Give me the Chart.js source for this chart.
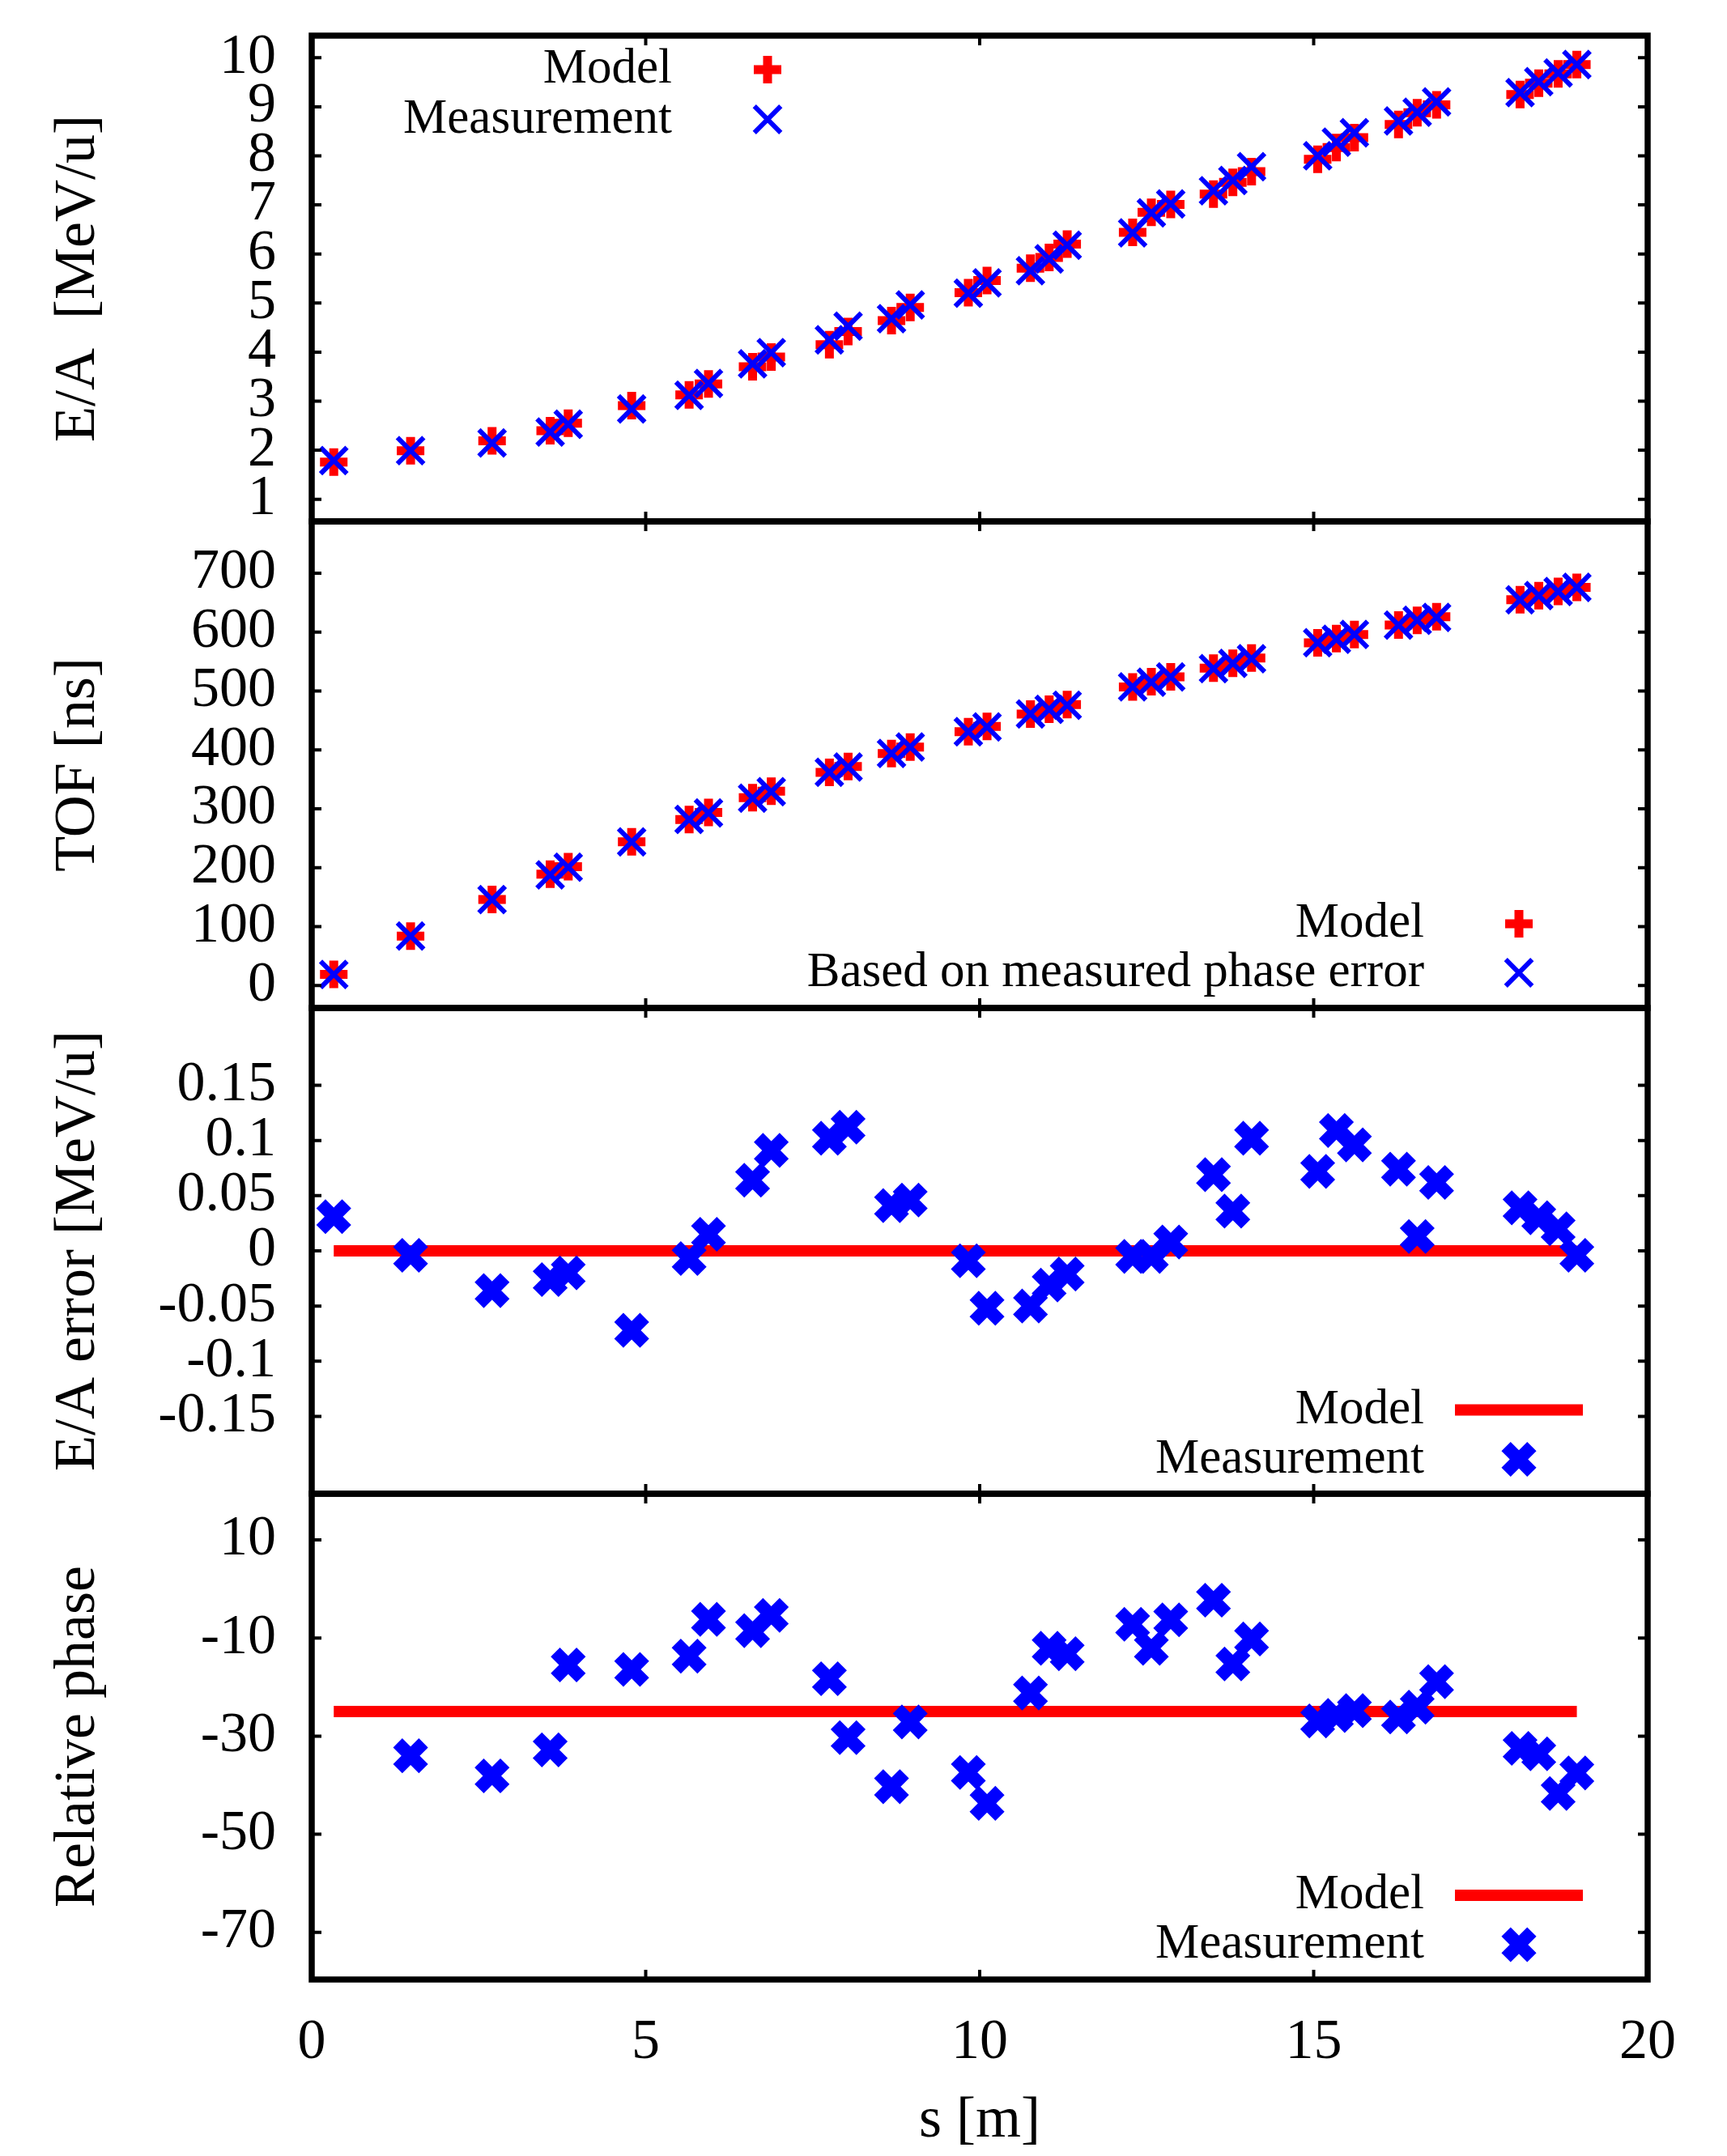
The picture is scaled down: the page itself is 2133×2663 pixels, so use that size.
<!DOCTYPE html>
<html>
<head>
<meta charset="utf-8">
<title>Energy, TOF and phase along the linac</title>
<script src="https://cdn.jsdelivr.net/npm/chart.js@4.4.1/dist/chart.umd.min.js"></script>
<style>
  html, body { margin: 0; padding: 0; background: #fff; overflow: hidden; }
  #wrap { position: relative; width: 2133px; height: 2663px; }
  canvas { position: absolute; left: 0; }
</style>
</head>
<body>
<div id="wrap">
  <canvas id="panelEA"></canvas>
  <canvas id="panelTOF"></canvas>
  <canvas id="panelErr"></canvas>
  <canvas id="panelPhase"></canvas>
</div>
<script>
// Cavity positions along the beam line, s [m]
const sPos = [0.33, 1.48, 2.70, 3.57, 3.84, 4.79, 5.65, 5.94, 6.60, 6.88,
              7.75, 8.03, 8.68, 8.96, 9.83, 10.11, 10.76, 11.04, 11.31, 12.29,
              12.57, 12.86, 13.50, 13.79, 14.07, 15.06, 15.34, 15.61, 16.27, 16.55,
              16.84, 18.09, 18.37, 18.66, 18.94];

// E/A [MeV/u]
const eaModel = [1.76, 1.99, 2.19, 2.40, 2.55, 2.91, 3.13, 3.35, 3.70, 3.90,
                 4.15, 4.42, 4.64, 4.91, 5.21, 5.46, 5.71, 5.93, 6.20, 6.44,
                 6.85, 7.01, 7.22, 7.46, 7.68, 7.93, 8.17, 8.37, 8.64, 8.88,
                 9.04, 9.25, 9.48, 9.67, 9.86];
const eaMeas = [1.79, 1.99, 2.15, 2.37, 2.53, 2.84, 3.12, 3.36, 3.76, 3.99,
                4.25, 4.53, 4.68, 4.96, 5.20, 5.41, 5.66, 5.90, 6.18, 6.43,
                6.84, 7.02, 7.29, 7.50, 7.78, 8.00, 8.28, 8.47, 8.71, 8.89,
                9.10, 9.29, 9.51, 9.69, 9.86];

// TOF [ns]
const tofModel = [19, 84, 146, 189, 202, 244, 282, 294, 319, 330,
                  362, 372, 394, 405, 431, 440, 461, 469, 477, 507,
                  516, 524, 539, 547, 556, 582, 589, 596, 612, 620,
                  626, 655, 662, 669, 676];
const tofMeas = [19, 84, 146, 188, 201, 244, 282, 293, 318, 329,
                 362, 371, 394, 405, 431, 439, 461, 469, 476, 507,
                 515, 524, 538, 547, 555, 582, 588, 596, 612, 620,
                 625, 655, 662, 669, 676];

// E/A error [MeV/u]
const eaErrMeas = [0.031, -0.004, -0.036, -0.026, -0.020, -0.072, -0.007, 0.015, 0.064, 0.091,
                   0.102, 0.112, 0.041, 0.046, -0.009, -0.052, -0.050, -0.031, -0.021, -0.005,
                   -0.005, 0.008, 0.069, 0.036, 0.102, 0.072, 0.109, 0.096, 0.074, 0.013,
                   0.062, 0.039, 0.030, 0.020, -0.004];

// Relative phase (first cavity has no reading)
const phaseMeas = [null, -34.0, -38.1, -32.8, -15.5, -16.4, -13.7, -6.2, -8.5, -5.4,
                   -18.3, -30.3, -40.3, -27.1, -37.4, -43.7, -21.2, -12.1, -13.2, -7.2,
                   -12.1, -6.3, -2.3, -15.3, -10.2, -26.9, -25.8, -24.8, -26.1, -24.1,
                   -18.9, -32.5, -33.6, -41.7, -37.5];

// Model lines of the lower two panels
const modelLineS = [0.33, 18.94];
const modelErr = [0, 0];
const modelPhase = [-25, -25];

// Tick labels
const sTicks = [0, 5, 10, 15, 20];
const eaTicks = [1, 2, 3, 4, 5, 6, 7, 8, 9, 10];
const tofTicks = [0, 100, 200, 300, 400, 500, 600, 700];
const errTicks = [-0.15, -0.1, -0.05, 0, 0.05, 0.1, 0.15];
const phaseTicks = [-70, -50, -30, -10, 10];

const PAGE_W = 2133;
const PAGE_H = 2663;
const PLOT_LEFT = 385;
const PLOT_RIGHT = 2035;
const MARGIN = 20;        // canvases overlap so the shared borders are not clipped
const TICK_LEN = 12;
const FONT = "'Liberation Serif', 'Times New Roman', serif";

const RED = '#ff0000';
const BLUE = '#0000ff';
const MARK_PLUS = { style: 'cross', radius: 17, width: 11, color: RED };
const MARK_X = { style: 'crossRot', radius: 23, width: 6, color: BLUE };
const MARK_XBOLD = { style: 'crossRot', radius: 22.5, width: 16, color: BLUE };

Chart.defaults.font.family = FONT;
Chart.defaults.color = '#000';

function points(ys, xs = sPos) {
  return xs.map((s, i) => ({ x: s, y: ys[i] }));
}

function markerSet(label, ys, m, order) {
  return {
    label: label,
    data: points(ys),
    showLine: false,
    pointStyle: m.style,
    pointRadius: m.radius,
    pointBorderWidth: m.width,
    pointBorderColor: m.color,
    pointBackgroundColor: m.color,
    order: order
  };
}

function lineSet(label, xs, ys, order) {
  return {
    label: label,
    data: points(ys, xs),
    showLine: true,
    borderColor: RED,
    borderWidth: 14,
    borderCapStyle: 'butt',
    pointRadius: 0,
    order: order
  };
}

// small helper for the legend samples (same geometry as the chart markers)
function drawMarker(ctx, m, x, y) {
  ctx.save();
  ctx.strokeStyle = m.color;
  ctx.lineWidth = m.width;
  ctx.lineCap = 'butt';
  ctx.beginPath();
  if (m.style === 'cross') {
    ctx.moveTo(x - m.radius, y); ctx.lineTo(x + m.radius, y);
    ctx.moveTo(x, y - m.radius); ctx.lineTo(x, y + m.radius);
  } else {
    const d = m.radius * Math.SQRT1_2;
    ctx.moveTo(x - d, y - d); ctx.lineTo(x + d, y + d);
    ctx.moveTo(x - d, y + d); ctx.lineTo(x + d, y - d);
  }
  ctx.stroke();
  ctx.restore();
}

// gnuplot-like frame with inward ticks on all four sides
const framePlugin = {
  id: 'frame',
  afterDatasetsDraw(chart, args, opts) {
    const { ctx, chartArea: a, scales } = chart;
    ctx.save();
    ctx.strokeStyle = '#000';
    ctx.lineWidth = 4;
    ctx.beginPath();
    opts.yTicks.forEach(v => {
      const y = scales.y.getPixelForValue(v);
      ctx.moveTo(a.left, y); ctx.lineTo(a.left + TICK_LEN, y);
      ctx.moveTo(a.right, y); ctx.lineTo(a.right - TICK_LEN, y);
    });
    sTicks.forEach(v => {
      const x = scales.x.getPixelForValue(v);
      ctx.moveTo(x, a.top); ctx.lineTo(x, a.top + TICK_LEN);
      ctx.moveTo(x, a.bottom); ctx.lineTo(x, a.bottom - TICK_LEN);
    });
    ctx.stroke();
    ctx.lineWidth = 7.5;
    ctx.strokeRect(a.left, a.top, a.right - a.left, a.bottom - a.top);
    ctx.restore();
  }
};

// legend with right-aligned text followed by the sample
const legendPlugin = {
  id: 'gnuLegend',
  afterDraw(chart, args, opts) {
    const { ctx, chartArea } = chart;
    ctx.save();
    ctx.font = '61px ' + FONT;
    ctx.textAlign = 'right';
    ctx.textBaseline = 'middle';
    ctx.fillStyle = '#000';
    opts.rows.forEach(row => {
      const y = chartArea.top + row.dy;
      ctx.fillText(row.label, opts.textRight, y);
      if (row.line) {
        ctx.strokeStyle = RED;
        ctx.lineWidth = 14;
        ctx.beginPath();
        ctx.moveTo(opts.sampleX - 79, y);
        ctx.lineTo(opts.sampleX + 79, y);
        ctx.stroke();
      } else {
        drawMarker(ctx, row.marker, opts.sampleX, y);
      }
    });
    ctx.restore();
  }
};

function makePanel(id, p) {
  const canvas = document.getElementById(id);
  const top = p.top - MARGIN;
  const height = p.last ? PAGE_H - top : p.bottom - p.top + 2 * MARGIN;
  canvas.width = PAGE_W;
  canvas.height = height;
  canvas.style.width = PAGE_W + 'px';
  canvas.style.height = height + 'px';
  canvas.style.top = top + 'px';

  return new Chart(canvas, {
    type: 'scatter',
    data: { datasets: p.datasets },
    options: {
      responsive: false,
      animation: false,
      events: [],
      devicePixelRatio: 1,
      layout: {
        autoPadding: false,
        padding: { left: 0, right: PAGE_W - PLOT_RIGHT, top: MARGIN, bottom: p.last ? 0 : MARGIN }
      },
      plugins: {
        legend: { display: false },
        tooltip: { enabled: false },
        frame: { yTicks: p.yTicks },
        gnuLegend: p.legend
      },
      scales: {
        x: {
          type: 'linear',
          min: 0,
          max: 20,
          display: !!p.last,
          grid: { display: false, drawTicks: false },
          border: { display: false },
          afterBuildTicks: s => { s.ticks = sTicks.map(v => ({ value: v })); },
          afterFit: s => {
            s.height = p.last ? PAGE_H - p.bottom : 0;
            s.paddingLeft = 0;
            s.paddingRight = 0;
          },
          ticks: {
            autoSkip: false,
            maxRotation: 0,
            padding: 37,
            font: { size: 70 },
            callback: v => String(v)
          },
          title: {
            display: true,
            text: 's [m]',
            font: { size: 72 },
            padding: { top: 0, bottom: 0 }
          }
        },
        y: {
          type: 'linear',
          min: p.yMin,
          max: p.yMax,
          grid: { display: false, drawTicks: false },
          border: { display: false },
          afterBuildTicks: s => { s.ticks = p.yTicks.map(v => ({ value: v })); },
          afterFit: s => {
            s.width = PLOT_LEFT;
            s.paddingTop = 0;
            s.paddingBottom = 0;
          },
          ticks: {
            autoSkip: false,
            padding: 44,
            font: { size: 70 },
            callback: v => String(v)
          },
          title: {
            display: true,
            text: p.yTitle,
            font: { size: 72 },
            padding: { top: 54, bottom: 0 }
          }
        }
      }
    },
    plugins: [framePlugin, legendPlugin]
  });
}

makePanel('panelEA', {
  top: 44, bottom: 644,
  yMin: 0.55, yMax: 10.45, yTicks: eaTicks,
  yTitle: 'E/A  [MeV/u]',
  datasets: [
    markerSet('Measurement', eaMeas, MARK_X, 0),
    markerSet('Model', eaModel, MARK_PLUS, 1)
  ],
  legend: {
    textRight: 830, sampleX: 948,
    rows: [
      { label: 'Model', dy: 42, marker: MARK_PLUS },
      { label: 'Measurement', dy: 103.5, marker: MARK_X }
    ]
  }
});

makePanel('panelTOF', {
  top: 644, bottom: 1245,
  yMin: -38, yMax: 788, yTicks: tofTicks,
  yTitle: 'TOF [ns]',
  datasets: [
    markerSet('Based on measured phase error', tofMeas, MARK_X, 0),
    markerSet('Model', tofModel, MARK_PLUS, 1)
  ],
  legend: {
    textRight: 1759, sampleX: 1876,
    rows: [
      { label: 'Model', dy: 497, marker: MARK_PLUS },
      { label: 'Based on measured phase error', dy: 557.5, marker: MARK_X }
    ]
  }
});

makePanel('panelErr', {
  top: 1245, bottom: 1845,
  yMin: -0.22, yMax: 0.22, yTicks: errTicks,
  yTitle: 'E/A error [MeV/u]',
  datasets: [
    markerSet('Measurement', eaErrMeas, MARK_XBOLD, 0),
    lineSet('Model', modelLineS, modelErr, 1)
  ],
  legend: {
    textRight: 1759, sampleX: 1876,
    rows: [
      { label: 'Model', dy: 496.5, line: true },
      { label: 'Measurement', dy: 557.5, marker: MARK_XBOLD }
    ]
  }
});

makePanel('panelPhase', {
  top: 1845, bottom: 2445, last: true,
  yMin: -79.6, yMax: 19.4, yTicks: phaseTicks,
  yTitle: 'Relative phase',
  datasets: [
    markerSet('Measurement', phaseMeas, MARK_XBOLD, 0),
    lineSet('Model', modelLineS, modelPhase, 1)
  ],
  legend: {
    textRight: 1759, sampleX: 1876,
    rows: [
      { label: 'Model', dy: 496, line: true },
      { label: 'Measurement', dy: 557, marker: MARK_XBOLD }
    ]
  }
});
</script>
</body>
</html>
